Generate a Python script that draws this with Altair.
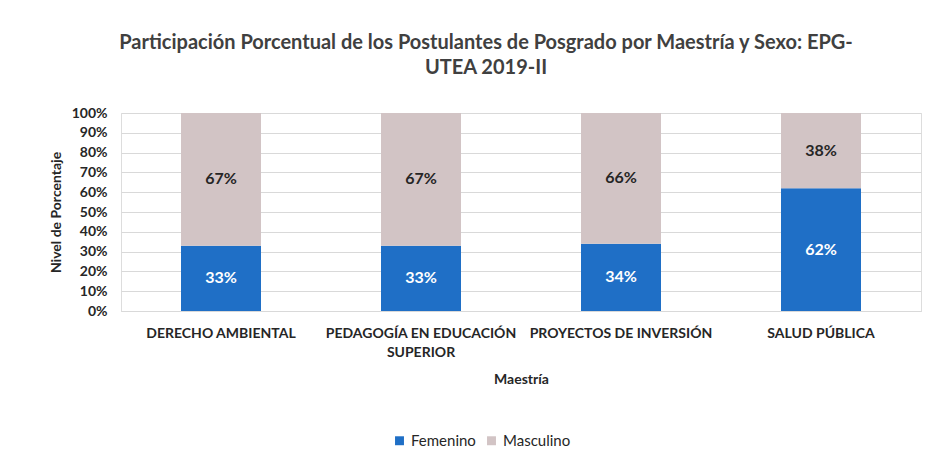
import altair as alt
import pandas as pd

categorias = ["DERECHO AMBIENTAL", "PEDAGOGÍA EN EDUCACIÓN SUPERIOR",
              "PROYECTOS DE INVERSIÓN", "SALUD PÚBLICA"]
femenino = [0.33, 0.33, 0.34, 0.62]
masculino = [0.67, 0.67, 0.66, 0.38]
series = ["Femenino", "Masculino"]
colores = ["#1f6fc6", "#d2c4c5"]
ticks_y = [0.0, 0.1, 0.2, 0.3, 0.4, 0.5, 0.6, 0.7, 0.8, 0.9, 1.0]

rows = []
for c, f, m in zip(categorias, femenino, masculino):
    rows.append({"Maestría": c, "Sexo": "Femenino", "valor": f, "orden": 0})
    rows.append({"Maestría": c, "Sexo": "Masculino", "valor": m, "orden": 1})
df = pd.DataFrame(rows)

FONT = "Lato"
TXT = "#404040"

x_axis = alt.Axis(
    labelAngle=0,
    labelFontSize=14,
    labelFontWeight="bold",
    labelColor="#262626",
    labelFont=FONT,
    labelPadding=15,
    labelLineHeight=19,
    labelLimit=300,
    labelExpr="datum.label == 'PEDAGOGÍA EN EDUCACIÓN SUPERIOR' ? ['PEDAGOGÍA EN EDUCACIÓN', 'SUPERIOR'] : datum.label",
    ticks=False,
    domainColor="#d9d9d9",
    titleFont=FONT,
    titleFontSize=14,
    titleFontWeight="bold",
    titleColor="#262626",
    titlePadding=13,
)
y_axis = alt.Axis(
    format=".0%",
    values=ticks_y,
    labelOverlap=False,
    labelFontSize=14,
    labelFontWeight="bold",
    labelColor="#262626",
    labelFont=FONT,
    labelPadding=14,
    ticks=False,
    domain=False,
    gridColor="#d9d9d9",
    titleFont=FONT,
    titleFontSize=14,
    titleFontWeight="bold",
    titleColor="#262626",
    titlePadding=8,
)
x_scale = alt.Scale(paddingInner=0.6, paddingOuter=0.3)
y_scale = alt.Scale(domain=[0, 1], nice=False)

base = alt.Chart(df)

bars = base.mark_bar().encode(
    x=alt.X("Maestría:N", sort=categorias, title="Maestría", scale=x_scale, axis=x_axis),
    y=alt.Y("valor:Q", stack="zero", scale=y_scale, title="Nivel de Porcentaje", axis=y_axis),
    color=alt.Color(
        "Sexo:N",
        scale=alt.Scale(domain=series, range=colores),
        legend=alt.Legend(
            title=None,
            orient="none",
            direction="horizontal",
            legendX=271,
            legendY=320,
            symbolType="square",
            symbolSize=80,
            symbolStrokeWidth=0,
            labelFont=FONT,
            labelFontSize=15,
            labelColor="#262626",
            columnPadding=8,
        ),
    ),
    order=alt.Order("orden:Q"),
)

labels = base.transform_stack(
    stack="valor", groupby=["Maestría"], as_=["y0", "y1"],
    sort=[alt.SortField("orden")]
).transform_calculate(
    mid="(datum.y0 + datum.y1) / 2"
).mark_text(font=FONT, fontSize=16, fontWeight="bold").encode(
    x=alt.X("Maestría:N", sort=categorias, title="Maestría", scale=x_scale, axis=x_axis),
    y=alt.Y("mid:Q", scale=y_scale, title="Nivel de Porcentaje", axis=y_axis),
    text=alt.Text("valor:Q", format=".0%"),
    color=alt.Color("Sexo:N", scale=alt.Scale(domain=series, range=["#ffffff", "#262626"]), legend=None),
)

chart = alt.layer(bars, labels).resolve_scale(color="independent").properties(
    width=800,
    height=198,
    padding={"left": 41, "top": 25, "right": 5, "bottom": 5},
    title=alt.TitleParams(
        text=["Participación Porcentual de los Postulantes de Posgrado por Maestría y Sexo: EPG-",
              "UTEA 2019-II"],
        font=FONT,
        fontSize=20,
        fontWeight="bold",
        color=TXT,
        lineHeight=25,
        anchor="middle",
        offset=28,
        dx=-35,
    ),
).configure_view(stroke=None).configure(background="white")

chart.save("out.html", embed_options={"renderer": "svg", "actions": False})
